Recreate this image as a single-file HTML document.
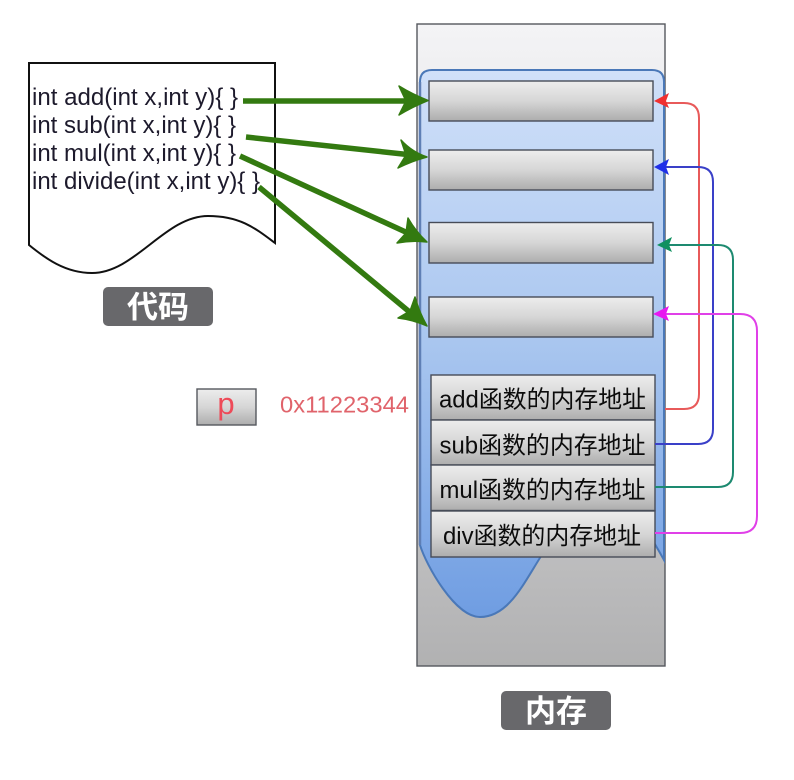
<!DOCTYPE html>
<html>
<head>
<meta charset="utf-8">
<style>
html,body{margin:0;padding:0;background:#fff;width:794px;height:780px;overflow:hidden}
svg{display:block;font-family:"Liberation Sans","Noto Sans CJK SC",sans-serif;filter:blur(0.35px)}
</style>
</head>
<body>
<svg width="794" height="780" viewBox="0 0 794 780" xmlns="http://www.w3.org/2000/svg">
<defs>
<linearGradient id="outer" x1="0" y1="0" x2="0" y2="1">
<stop offset="0" stop-color="#f4f4f6"/><stop offset="0.5" stop-color="#d4d4d6"/><stop offset="1" stop-color="#b1b1b2"/>
</linearGradient>
<linearGradient id="blue" x1="0" y1="0" x2="0" y2="1">
<stop offset="0" stop-color="#d0e0f9"/><stop offset="0.5" stop-color="#a9c6ef"/><stop offset="1" stop-color="#6f9de2"/>
</linearGradient>
<linearGradient id="box" x1="0" y1="0" x2="0" y2="1">
<stop offset="0" stop-color="#ededed"/><stop offset="0.5" stop-color="#d6d6d6"/><stop offset="1" stop-color="#adadad"/>
</linearGradient>
</defs>

<!-- memory -->
<rect x="417" y="24" width="248" height="642" fill="url(#outer)" stroke="#55585e" stroke-width="1.4"/>
<path d="M420 82 Q420 70 432 70 L652 70 Q664 70 664 82 L664 560 C650 535 625 490 600 490 C575 490 565 510 545 550 C525 580 510 617 480 617 C455 617 426 565 420 545 Z" fill="url(#blue)" stroke="#4a78b8" stroke-width="2"/>
<path d="M420 82 L420 545" stroke="#5f7fb5" stroke-width="2.5" fill="none"/>

<g fill="url(#box)" stroke="#474c58" stroke-width="1.4">
<rect x="429" y="81" width="224" height="40"/>
<rect x="429" y="150" width="224" height="40"/>
<rect x="429" y="222.500" width="224" height="40.500"/>
<rect x="429" y="297" width="224" height="40"/>
<rect x="431" y="375" width="224" height="45"/>
<rect x="431" y="420" width="224" height="45"/>
<rect x="431" y="465" width="224" height="45.500"/>
<rect x="431" y="511" width="224" height="46"/>
</g>

<g font-size="24" fill="#0c0c0c" text-anchor="middle">
<text x="542.500" y="407.500" textLength="207" lengthAdjust="spacingAndGlyphs">add函数的内存地址</text>
<text x="542.500" y="453.500" textLength="206" lengthAdjust="spacingAndGlyphs">sub函数的内存地址</text>
<text x="542.500" y="498" textLength="206" lengthAdjust="spacingAndGlyphs">mul函数的内存地址</text>
<text x="542" y="544" textLength="198" lengthAdjust="spacingAndGlyphs">div函数的内存地址</text>
</g>

<!-- code document -->
<path d="M29 63 L275 63 L275 243 C255 228 240 216 208 216 C165 216 135 273 92 273 C65 273 45 258 29 245 Z" fill="#fff" stroke="#111" stroke-width="2"/>
<g font-size="24" fill="#1d1a2c">
<text x="32" y="105" textLength="206" lengthAdjust="spacingAndGlyphs">int add(int x,int y){ }</text>
<text x="32" y="133" textLength="204" lengthAdjust="spacingAndGlyphs">int sub(int x,int y){ }</text>
<text x="32" y="161" textLength="204" lengthAdjust="spacingAndGlyphs">int mul(int x,int y){ }</text>
<text x="32" y="189" textLength="228" lengthAdjust="spacingAndGlyphs">int divide(int x,int y){ }</text>
</g>

<!-- labels -->
<rect x="103" y="287" width="110" height="39" rx="5" fill="#68686b"/>
<text x="158" y="318" font-size="31" font-weight="700" fill="#fff" text-anchor="middle">代码</text>
<rect x="501" y="691" width="110" height="39" rx="5" fill="#68686b"/>
<text x="556" y="722" font-size="31" font-weight="700" fill="#fff" text-anchor="middle">内存</text>

<!-- p -->
<rect x="197" y="389" width="59" height="36" fill="url(#box)" stroke="#55585e" stroke-width="1.4"/>
<text x="226" y="414" font-size="31" fill="#ee4a58" text-anchor="middle">p</text>
<text x="280" y="412.500" font-size="23" fill="#e0636b" textLength="129" lengthAdjust="spacingAndGlyphs">0x11223344</text>

<!-- green arrows -->
<g stroke="#337a10" stroke-width="5.500" fill="none">
<line x1="243" y1="101" x2="412" y2="101"/>
<line x1="246" y1="137" x2="412" y2="155"/>
<line x1="240" y1="156" x2="410" y2="234"/>
<line x1="259" y1="187" x2="412" y2="314"/>
</g>
<g fill="#337a10" stroke="#337a10" stroke-width="1.500" stroke-linejoin="round">
<path d="M428 100.500 Q412 94 399 86 L406 101 L399 115 Q412 107 428 100.500 Z"/>
<path d="M427 157 Q412 152 401 140 L406 155 L398 168 Q412 161 427 157 Z"/>
<path d="M427 242 Q416 232 408 218 L406 233 L397 243 Q412 240 427 242 Z"/>
<path d="M427 326 Q419 312 415 297 L410 311 L398 318 Q414 320 427 326 Z"/>
</g>

<!-- connectors -->
<g fill="none" stroke-width="2">
<path d="M665 409 L684 409 Q699 409 699 394 L699 118 Q699 103 684 103 L665 103" stroke="#e85a5a"/>
<path d="M655 444 L698 444 Q713 444 713 429 L713 182 Q713 167 698 167 L665 167" stroke="#3a40c8"/>
<path d="M655 487 L718 487 Q733 487 733 472 L733 260 Q733 245 718 245 L668 245" stroke="#1d8a70"/>
<path d="M655 533 L740 533 Q757 533 757 516 L757 331 Q757 314 740 314 L665 314" stroke="#e040e8"/>
</g>
<path d="M654 101 L669 93 L666 101 L669 108 Z" fill="#f03030"/>
<path d="M654 167 L669 159 L666 167 L669 175 Z" fill="#2030e8"/>
<path d="M657 245 L672 237 L669 245 L672 252 Z" fill="#109060"/>
<path d="M653 314 L669 306 L666 314 L669 321 Z" fill="#e818f0"/>
</svg>
</body>
</html>
